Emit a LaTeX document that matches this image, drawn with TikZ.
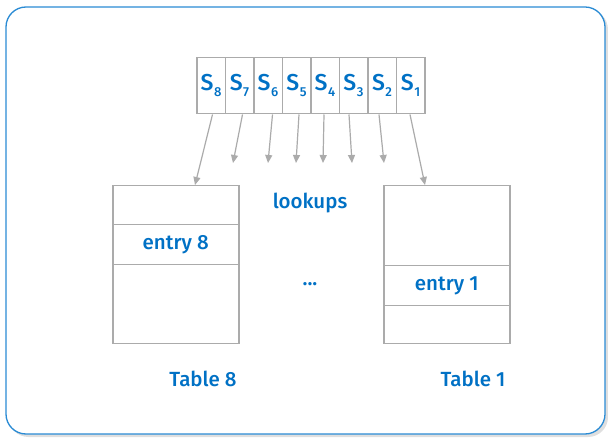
\documentclass[tikz,border=0pt]{standalone}
\usepackage{fontspec}
\setmainfont{Fira Sans Medium}
\usetikzlibrary{arrows.meta}
\definecolor{intblue}{HTML}{0071C5}
\definecolor{framblue}{HTML}{2A8BD4}
\definecolor{lgray}{HTML}{ABABAB}
\tikzset{
  cellbox/.style={draw=lgray, line width=1.5pt, minimum width=28.5pt, minimum height=56pt, inner sep=0pt, anchor=north west, font=\fontsize{23}{23}\selectfont, text=intblue},
  rowbox/.style={draw=lgray, line width=1.5pt, minimum width=126pt, inner sep=0pt, anchor=north west, font=\fontsize{20.5}{20.5}\selectfont, text=intblue},
  lbl/.style={font=\fontsize{20.5}{20.5}\selectfont, text=intblue},
  lookarrow/.style={draw=lgray, line width=1.2pt, -{Triangle[length=8pt,width=7pt]}},
}
\newcommand{\sublbl}[1]{S\kern0.5pt\raisebox{-6pt}{\fontsize{13}{13}\selectfont #1}}
\begin{document}
\begin{tikzpicture}[x=1pt,y=-1pt]
\useasboundingbox (0,0) rectangle (608,438);
% frame with shadow
\fill[gray!25, rounded corners=20pt] (8.5,9.5) rectangle (608,437);
\draw[framblue, fill=white, line width=1.3pt, rounded corners=20pt] (6,7) rectangle (605,434);
% S cells
\foreach \i/\k in {0/8,1/7,2/6,3/5,4/4,5/3,6/2,7/1}{
  \node[cellbox] (s\k) at ({196+28.5*\i},57) {\sublbl{\k}};
}
% tables
\node[rowbox, minimum height=39pt] (t8a) at (112,185) {};
\node[rowbox, minimum height=40pt] (t8e) at (112,224) {entry 8};
\node[rowbox, minimum height=79pt] (t8b) at (112,264) {};
\node[rowbox, minimum height=80pt] (t1a) at (383,185) {};
\node[rowbox, minimum height=40pt] (t1e) at (383,265) {entry 1};
\node[rowbox, minimum height=38pt] (t1b) at (383,305) {};
% labels
\node[lbl] (lk) at (310,203) {lookups};
\node[lbl] (dots) at (310,284) {...};
\node[lbl] (tl8) at (203,379) {Table 8};
\node[lbl] (tl1) at (473,379) {Table 1};
% arrow endpoints
\coordinate (e7) at (233,163);
\coordinate (e6) at (268,163);
\coordinate (e5) at (296,163);
\coordinate (e4) at (323,163);
\coordinate (e3) at (352,163);
\coordinate (e2) at (384,163);
% arrows
\draw[lookarrow] ([xshift=1.5pt]s8.south) -- ([xshift=83pt]t8a.north west);
\draw[lookarrow] ([xshift=3pt]s7.south) -- (e7);
\draw[lookarrow] ([xshift=4.5pt]s6.south) -- (e6);
\draw[lookarrow] ([xshift=2.5pt]s5.south) -- (e5);
\draw[lookarrow] ([xshift=-1pt]s4.south) -- (e4);
\draw[lookarrow] ([xshift=-4.5pt]s3.south) -- (e3);
\draw[lookarrow] ([xshift=-3pt]s2.south) -- (e2);
\draw[lookarrow] ([xshift=-0.5pt]s1.south) -- ([xshift=42pt]t1a.north west);
\end{tikzpicture}
\end{document}
